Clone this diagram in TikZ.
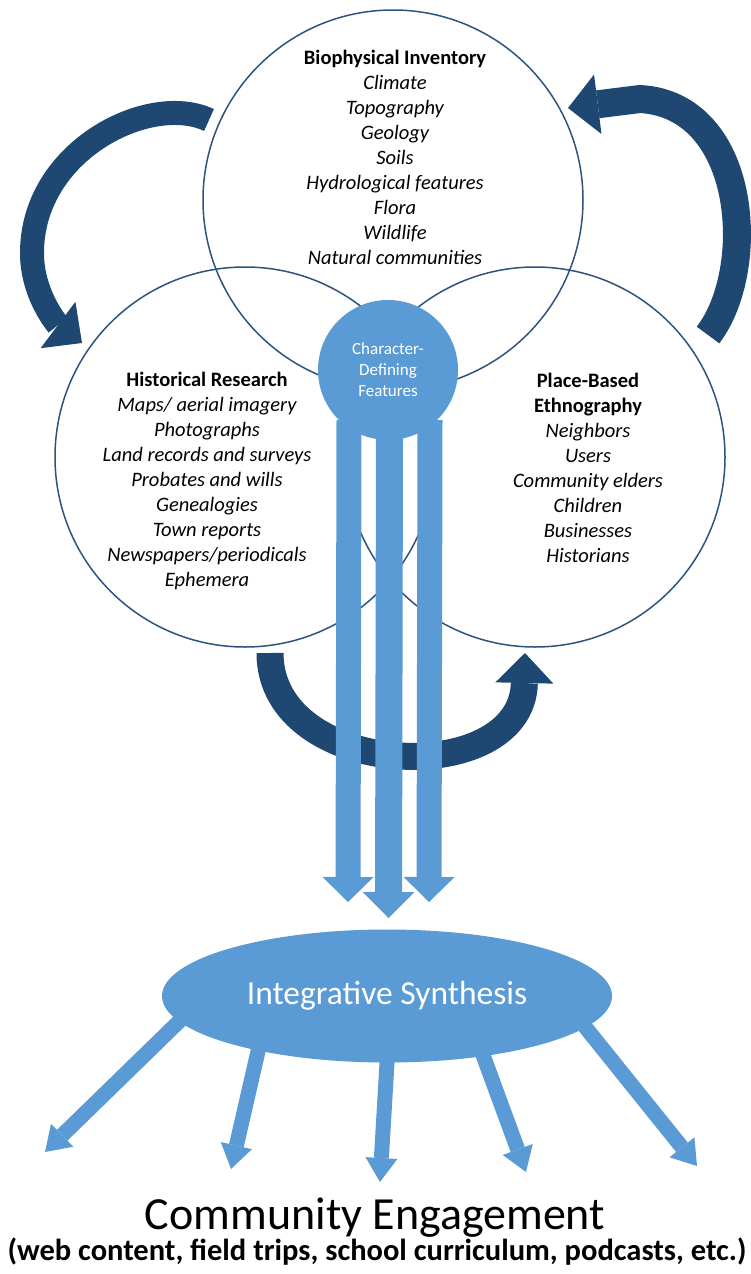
\documentclass[tikz,border=0pt]{standalone}
\usepackage{fontspec}
\setmainfont{Carlito}
\usetikzlibrary{arrows.meta,shapes.geometric}
\definecolor{ringblue}{RGB}{44,84,126}
\definecolor{loopblue}{RGB}{30,72,114}
\definecolor{flowblue}{RGB}{91,155,213}
\begin{document}
\begin{tikzpicture}
[
    x=1pt, y=1pt,
    ring/.style={circle, draw=ringblue, line width=1.5pt, minimum size=380pt, inner sep=0pt},
    topic/.style={align=center, font=\fontsize{20.5}{25}\selectfont\itshape},
    cyclearrow/.style={loopblue, line width=26pt, -{Triangle[width=58pt,length=30pt,line width=0pt]}},
    flowarrow/.style={flowblue, line width=25pt, -{Triangle[width=51pt,length=25pt,line width=0pt]}},
    rayarrow/.style={flowblue, line width=15pt, shorten <=-12pt, -{Triangle[width=32pt,length=24pt,line width=0pt]}},
]
\useasboundingbox (0,0) rectangle (751,-1274);
\node[ring] (bio) at (393,-200) {};
\node[ring] (hist) at (245,-457) {};
\node[ring] (place) at (535,-457) {};
\node[topic] (biotext) at (395,-157.5) {\textbf{\upshape Biophysical Inventory}\\Climate\\Topography\\Geology\\Soils\\Hydrological features\\Flora\\Wildlife\\Natural communities};
\node[topic] (histtext) at (207,-480.5) {\textbf{\upshape Historical Research}\\Maps/ aerial imagery\\Photographs\\Land records and surveys\\Probates and wills\\Genealogies\\Town reports\\Newspapers/periodicals\\Ephemera};
\node[topic] (placetext) at (588,-468) {\textbf{\upshape Place-Based}\\\textbf{\upshape Ethnography}\\Neighbors\\Users\\Community elders\\Children\\Businesses\\Historians};
\coordinate (biotail) at (209,-120);
\coordinate (histhead) at (82,-343);
\coordinate (histtail) at (270,-653);
\coordinate (placehead) at (525,-653);
\coordinate (placetail) at (708,-335);
\coordinate (biohead) at (568,-108);
\draw[cyclearrow, line width=24pt] (biotail) .. controls (150,-92) and (32,-150) .. (32,-253) .. controls (32,-295) and (58,-325) .. (histhead);
\draw[cyclearrow, line width=27pt] (histtail) .. controls (270,-780) and (522,-790) .. (placehead);
\draw[cyclearrow, line width=28pt, -{Triangle[width=60pt,length=30pt,line width=0pt]}] (placetail) .. controls (758,-270) and (748,-105) .. (640,-99) -- (biohead);
\node[circle, fill=flowblue, minimum size=140pt, inner sep=0pt, text=white, align=center, font=\fontsize{17}{21}\selectfont] (cdf) at (388,-370) {Character-\\Defining\\Features};
\node[ellipse, fill=flowblue, minimum width=450pt, minimum height=133pt, text=white, font=\fontsize{33.5}{40}\selectfont] (synth) at (387,-996) {Integrative Synthesis};
\draw[flowarrow] ([xshift=-39pt,yshift=20pt]cdf.south) -- ([xshift=-39pt]synth.north |- 0,-902);
\draw[flowarrow, line width=27pt, -{Triangle[width=52pt,length=26pt,line width=0pt]}] ([xshift=1.5pt,yshift=15pt]cdf.south) -- ([xshift=1.5pt]synth.north |- 0,-918);
\draw[flowarrow] ([xshift=42pt,yshift=20pt]cdf.south) -- ([xshift=42pt]synth.north |- 0,-902);
\coordinate (web) at (45,-1152);
\coordinate (trips) at (231,-1169);
\coordinate (school) at (380,-1182);
\coordinate (podcasts) at (526,-1172);
\coordinate (etc) at (697,-1166);
\draw[rayarrow] (synth.187.2) -- (web);
\draw[rayarrow] (synth.203.8) -- (trips);
\draw[rayarrow] (synth.270) -- (school);
\draw[rayarrow] (synth.328.8) -- (podcasts);
\draw[rayarrow] (synth.351.9) -- (etc);
\node[font=\fontsize{46}{55}\selectfont] (engage) at (375,-1218) {Community Engagement};
\node[font=\fontsize{30.5}{36}\selectfont\bfseries] (outlets) at (377,-1252) {(web content, field trips, school curriculum, podcasts, etc.)};
\end{tikzpicture}
\end{document}
